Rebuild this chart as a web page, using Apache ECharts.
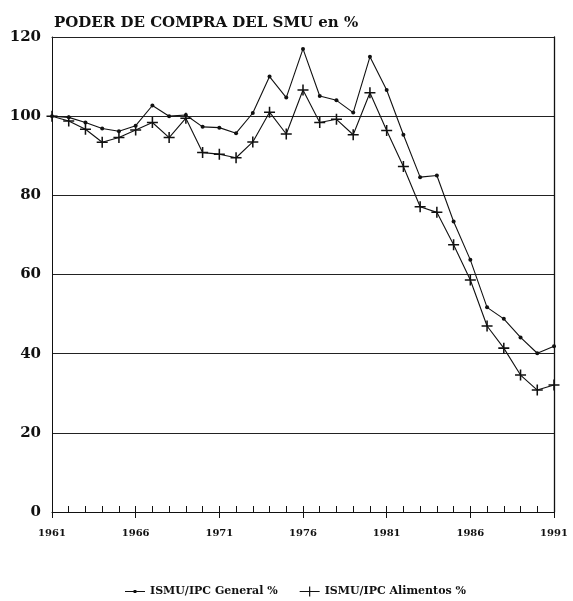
<!DOCTYPE html>
<html>
<head>
<meta charset="utf-8">
<script src="https://cdn.jsdelivr.net/npm/echarts@6/dist/echarts.min.js"></script>
<style>
  html, body { margin: 0; padding: 0; background: #fff; }
  #chart { width: 573px; height: 601px; }
</style>
</head>
<body>
<div id="chart"></div>
<script>
  /******************/
  //region    //data

  let years = [];
  for (let y = 1961; y <= 1991; y++) years.push(y);

  let generalValues = [
    100.0, 99.7, 98.4, 96.9, 96.2, 97.6, 102.7, 100.0, 100.3, 97.3,
    97.1, 95.7, 100.8, 110.0, 104.7, 117.0, 105.1, 104.0, 100.9, 115.0,
    106.6, 95.3, 84.6, 85.0, 73.4, 63.7, 51.7, 48.8, 44.1, 40.1, 41.9
  ];

  let alimentosValues = [
    100.0, 98.8, 96.7, 93.4, 94.6, 96.5, 98.4, 94.6, 99.5, 90.8,
    90.4, 89.5, 93.5, 101.0, 95.5, 106.6, 98.4, 99.2, 95.3, 105.9,
    96.4, 87.3, 77.1, 75.7, 67.5, 58.6, 47.0, 41.4, 34.6, 30.8, 32.1
  ];

  let yTicks = [0, 20, 40, 60, 80, 100, 120];

  //endregion

  /******************/
  //region    //chart

  let serif = "'DejaVu Serif', 'Liberation Serif', serif";
  let plus = 'path://M4.3,0H5.7V4.3H10V5.7H5.7V10H4.3V5.7H0V4.3H4.3Z';
  let iconGeneral = 'path://M0,4.5H20V5.5H0Z M8.6,3.6H11.4V6.4H8.6Z';
  let iconAlimentos = 'path://M0,4.5H20V5.5H0Z M9.4,0H10.6V10H9.4Z';

  let pairs = (vals) => years.map((y, i) => [y, vals[i]]);

  let chart = echarts.init(document.getElementById('chart'));

  let option = {
    animation: false,
    backgroundColor: '#fff',
    title: {
      text: 'PODER DE COMPRA DEL SMU en %',
      left: 49,
      top: 11,
      textStyle: {
        fontFamily: serif,
        fontWeight: 'bold',
        fontSize: 15,
        color: '#111',
      },
    },
    legend: {
      left: 120,
      top: 581,
      itemWidth: 20,
      itemHeight: 10,
      itemGap: 22,
      textStyle: {
        fontFamily: serif,
        fontWeight: 'bold',
        fontSize: 11,
        color: '#111',
      },
      data: [
        {name: 'ISMU/IPC General %', icon: iconGeneral},
        {name: 'ISMU/IPC Alimentos %', icon: iconAlimentos},
      ],
    },
    grid: {
      left: 52,
      right: 19,
      top: 37,
      bottom: 89,
    },
    xAxis: [
      {
        type: 'value',
        min: 1961,
        max: 1991,
        interval: 5,
        axisLine: {lineStyle: {color: '#111', width: 1}},
        axisTick: {show: true, length: 6, lineStyle: {color: '#111'}},
        axisLabel: {
          margin: 16,
          fontFamily: serif,
          fontWeight: 'bold',
          fontSize: 10,
          color: '#111',
          formatter: (v) => String(v),
        },
        splitLine: {show: false},
      },
      {
        type: 'value',
        position: 'bottom',
        min: 1961,
        max: 1991,
        interval: 1,
        axisLine: {show: false},
        axisTick: {show: true, inside: true, length: 6, lineStyle: {color: '#111'}},
        axisLabel: {show: false},
        splitLine: {show: false},
      },
      {
        type: 'value',
        position: 'top',
        min: 1961,
        max: 1991,
        axisLine: {show: true, lineStyle: {color: '#222', width: 1}},
        axisTick: {show: false},
        axisLabel: {show: false},
        splitLine: {show: false},
      },
    ],
    yAxis: [
      {
        type: 'value',
        min: yTicks[0],
        max: yTicks[yTicks.length - 1],
        interval: 20,
        axisLine: {show: true, lineStyle: {color: '#111', width: 1}},
        axisTick: {show: false},
        axisLabel: {
          margin: 11,
          fontFamily: serif,
          fontWeight: 'bold',
          fontSize: 15,
          color: '#111',
        },
        splitLine: {show: true, lineStyle: {color: '#222', width: 1}},
      },
      {
        type: 'value',
        position: 'right',
        min: 0,
        max: 120,
        axisLine: {show: true, lineStyle: {color: '#111', width: 1.3}},
        axisTick: {show: false},
        axisLabel: {show: false},
        splitLine: {show: false},
      },
    ],
    series: [
      {
        name: 'ISMU/IPC General %',
        type: 'line',
        data: pairs(generalValues),
        symbol: 'circle',
        symbolSize: 4,
        itemStyle: {color: '#111'},
        lineStyle: {color: '#111', width: 1.1},
      },
      {
        name: 'ISMU/IPC Alimentos %',
        type: 'line',
        data: pairs(alimentosValues),
        symbol: plus,
        symbolSize: 11,
        itemStyle: {color: '#111'},
        lineStyle: {color: '#111', width: 1.1},
      },
    ],
  };

  chart.setOption(option);

  //endregion
</script>
</body>
</html>
